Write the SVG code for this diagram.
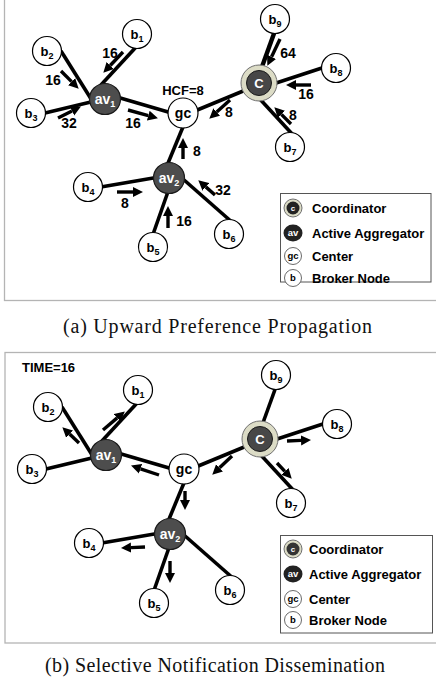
<svg xmlns="http://www.w3.org/2000/svg" width="436" height="684" viewBox="0 0 436 684">
<style>
.panel{fill:#fff;stroke:#b4b4b4;stroke-width:1.3}
.edge{stroke:#000;stroke-width:3.6;stroke-linecap:butt;fill:none}
.arr{stroke:#000;stroke-width:3.4;fill:none;marker-end:url(#ah)}
.bn{fill:#fff;stroke:#000;stroke-width:1.2}
.av{fill:#4d4d4d;stroke:#1a1a1a;stroke-width:1.2}
.ring{fill:#dcdcc6;stroke:#707070;stroke-width:1}
.cin{fill:#474747;stroke:#1a1a1a;stroke-width:1}
.t{font-family:"Liberation Sans",Arial,sans-serif;font-weight:bold;fill:#000}
.nl{font-size:13px;text-anchor:middle}
.wl{font-size:14px;text-anchor:middle;fill:#fff}
.sub{font-size:9px}
.lbl{font-size:14px;text-anchor:middle}
.leg{font-size:13px}
.li{font-size:9.5px;text-anchor:middle}
.cap{font-family:"Liberation Serif","Times New Roman",serif;font-size:20px;fill:#111}
.lbox{fill:#fff;stroke:#555;stroke-width:1}
</style>
<defs>
<marker id="ah" viewBox="0 0 10 10" refX="0" refY="5" markerWidth="10" markerHeight="11" markerUnits="userSpaceOnUse" orient="auto">
<path d="M0,0 L10,5 L0,10 z" fill="#000"/>
</marker>
</defs>

<!-- Panel (a) -->
<rect class="panel" x="4.5" y="-5" width="440" height="305.5"/>
<g id="edges-a">
<line class="edge" x1="137" y1="46" x2="100" y2="86"/>
<line class="edge" x1="61" y1="51" x2="93" y2="102"/>
<line class="edge" x1="45" y1="113" x2="95" y2="101"/>
<line class="edge" x1="110" y1="95" x2="175" y2="114"/>
<line class="edge" x1="190" y1="113" x2="248" y2="89"/>
<line class="edge" x1="185" y1="122" x2="166" y2="168"/>
<line class="edge" x1="276" y1="28" x2="259" y2="75" style="stroke-width:4.4"/>
<line class="edge" x1="270" y1="85" x2="328" y2="66"/>
<line class="edge" x1="258" y1="97" x2="294" y2="136"/>
<line class="edge" x1="95" y1="188" x2="165" y2="176"/>
<line class="edge" x1="151" y1="240" x2="170" y2="186"/>
<line class="edge" x1="175" y1="172" x2="233" y2="223"/>
</g>
<g id="arrows-a">
<line class="arr" x1="123" y1="52" x2="110.2" y2="65.5"/>
<line class="arr" x1="61" y1="71" x2="71.6" y2="81.6"/>
<line class="arr" x1="58" y1="118" x2="72" y2="111"/>
<line class="arr" x1="128" y1="110" x2="148.3" y2="115.6"/>
<line class="arr" x1="230" y1="100" x2="216.7" y2="112"/>
<line class="arr" x1="183" y1="159" x2="183" y2="148"/>
<line class="arr" x1="280" y1="39" x2="271.6" y2="56.8"/>
<line class="arr" x1="311" y1="85" x2="296" y2="85"/>
<line class="arr" x1="291" y1="124" x2="281.4" y2="114.4"/>
<line class="arr" x1="117" y1="192" x2="133" y2="192"/>
<line class="arr" x1="168" y1="228" x2="168" y2="216"/>
<line class="arr" x1="215" y1="195" x2="205.8" y2="186.9"/>
</g>
<g id="labels-a" class="t lbl">
<text x="110" y="58">16</text>
<text x="53" y="85">16</text>
<text x="69" y="128">32</text>
<text x="133" y="128">16</text>
<text x="183" y="95" style="font-size:13px">HCF=8</text>
<text x="229" y="117">8</text>
<text x="197" y="156">8</text>
<text x="288" y="58">64</text>
<text x="306" y="99">16</text>
<text x="293" y="120">8</text>
<text x="125" y="208">8</text>
<text x="184" y="226">16</text>
<text x="223" y="195">32</text>
</g>
<g id="nodes-a">
<g id="a-b1"><circle class="bn" cx="137" cy="34" r="14.5"/><text class="t nl" x="137" y="38.5">b<tspan class="sub" dy="3">1</tspan></text></g>
<g id="a-b2"><circle class="bn" cx="47" cy="51" r="14.5"/><text class="t nl" x="47" y="55.5">b<tspan class="sub" dy="3">2</tspan></text></g>
<g id="a-b3"><circle class="bn" cx="31" cy="113" r="14.5"/><text class="t nl" x="31" y="117.5">b<tspan class="sub" dy="3">3</tspan></text></g>
<g id="a-av1"><circle class="av" cx="105" cy="99" r="15.5"/><text class="t wl" x="105" y="104">av<tspan class="sub" dy="3">1</tspan></text></g>
<g id="a-gc"><circle class="bn" cx="183" cy="113" r="15"/><text class="t nl" x="183" y="118" style="font-size:14px">gc</text></g>
<g id="a-C"><circle class="ring" cx="259" cy="83" r="18"/><circle class="cin" cx="259" cy="83" r="12.5"/><text class="t nl" x="259" y="88" style="fill:#fff">C</text></g>
<g id="a-b9"><circle class="bn" cx="275" cy="19" r="14.5"/><text class="t nl" x="275" y="23.5">b<tspan class="sub" dy="3">9</tspan></text></g>
<g id="a-b8"><circle class="bn" cx="336" cy="68" r="14.5"/><text class="t nl" x="336" y="72.5">b<tspan class="sub" dy="3">8</tspan></text></g>
<g id="a-b7"><circle class="bn" cx="290" cy="147" r="14.5"/><text class="t nl" x="290" y="151.5">b<tspan class="sub" dy="3">7</tspan></text></g>
<g id="a-av2"><circle class="av" cx="169" cy="178" r="15.5"/><text class="t wl" x="169" y="183">av<tspan class="sub" dy="3">2</tspan></text></g>
<g id="a-b4"><circle class="bn" cx="88" cy="187" r="14.5"/><text class="t nl" x="88" y="191.5">b<tspan class="sub" dy="3">4</tspan></text></g>
<g id="a-b5"><circle class="bn" cx="153" cy="247" r="14.5"/><text class="t nl" x="153" y="251.5">b<tspan class="sub" dy="3">5</tspan></text></g>
<g id="a-b6"><circle class="bn" cx="229" cy="234" r="14.5"/><text class="t nl" x="229" y="238.5">b<tspan class="sub" dy="3">6</tspan></text></g>
</g>
<g id="legend-a">
<rect class="lbox" x="280.5" y="193.5" width="150.5" height="88.5"/>
<circle class="ring" cx="293" cy="208" r="9"/><circle cx="293" cy="208" r="6.5" fill="#222"/><text class="t li" x="293" y="211" style="fill:#fff;font-size:8px">c</text>
<text class="t leg" x="312" y="212.5">Coordinator</text>
<ellipse cx="293" cy="233" rx="9.5" ry="8.5" fill="#222"/><text class="t li" x="293" y="236.3" style="fill:#fff">av</text>
<text class="t leg" x="312" y="237.5">Active Aggregator</text>
<circle class="bn" cx="293" cy="256" r="8.5" style="stroke:#444;stroke-width:0.8"/><text class="t li" x="293" y="259.3">gc</text>
<text class="t leg" x="312" y="260.5">Center</text>
<circle class="bn" cx="293" cy="278" r="8.5" style="stroke:#444;stroke-width:0.8"/><text class="t li" x="293" y="281.3">b</text>
<text class="t leg" x="312" y="282.5">Broker Node</text>
</g>
<text class="cap" x="63" y="333" textLength="309" lengthAdjust="spacing">(a) Upward Preference Propagation</text>

<!-- Panel (b) -->
<rect class="panel" x="5" y="352.5" width="440" height="290.5"/>
<text class="t" x="22" y="372" style="font-size:13px">TIME=16</text>
<g transform="translate(1,356)">
<g id="edges-b">
<line class="edge" x1="137" y1="46" x2="100" y2="86"/>
<line class="edge" x1="61" y1="51" x2="93" y2="102"/>
<line class="edge" x1="45" y1="113" x2="95" y2="101"/>
<line class="edge" x1="110" y1="95" x2="175" y2="114"/>
<line class="edge" x1="190" y1="113" x2="248" y2="89"/>
<line class="edge" x1="185" y1="122" x2="166" y2="168"/>
<line class="edge" x1="276" y1="28" x2="259" y2="75"/>
<line class="edge" x1="270" y1="85" x2="328" y2="66"/>
<line class="edge" x1="258" y1="97" x2="294" y2="136"/>
<line class="edge" x1="95" y1="188" x2="165" y2="176"/>
<line class="edge" x1="151" y1="240" x2="170" y2="186"/>
<line class="edge" x1="175" y1="172" x2="233" y2="223"/>
</g>
</g>
<g id="arrows-b">
<line class="arr" x1="103" y1="430" x2="117.2" y2="417.9"/>
<line class="arr" x1="79" y1="443" x2="69.6" y2="434.1"/>
<line class="arr" x1="159" y1="475" x2="140.5" y2="468.8"/>
<line class="arr" x1="185" y1="491" x2="185" y2="500"/>
<line class="arr" x1="232" y1="456" x2="219.5" y2="467.8"/>
<line class="arr" x1="287" y1="441" x2="301" y2="440.4"/>
<line class="arr" x1="277" y1="463" x2="284.9" y2="471.4"/>
<line class="arr" x1="145" y1="547" x2="131" y2="547.6"/>
<line class="arr" x1="170" y1="561" x2="170" y2="573"/>
</g>
<g transform="translate(1,356)">
<g id="b-b1"><circle class="bn" cx="137" cy="34" r="14.5"/><text class="t nl" x="137" y="38.5">b<tspan class="sub" dy="3">1</tspan></text></g>
<g id="b-b2"><circle class="bn" cx="47" cy="51" r="14.5"/><text class="t nl" x="47" y="55.5">b<tspan class="sub" dy="3">2</tspan></text></g>
<g id="b-b3"><circle class="bn" cx="31" cy="113" r="14.5"/><text class="t nl" x="31" y="117.5">b<tspan class="sub" dy="3">3</tspan></text></g>
<g id="b-av1"><circle class="av" cx="105" cy="99" r="15.5"/><text class="t wl" x="105" y="104">av<tspan class="sub" dy="3">1</tspan></text></g>
<g id="b-gc"><circle class="bn" cx="183" cy="113" r="15"/><text class="t nl" x="183" y="118" style="font-size:14px">gc</text></g>
<g id="b-C"><circle class="ring" cx="259" cy="83" r="18"/><circle class="cin" cx="259" cy="83" r="12.5"/><text class="t nl" x="259" y="88" style="fill:#fff">C</text></g>
<g id="b-b9"><circle class="bn" cx="275" cy="19" r="14.5"/><text class="t nl" x="275" y="23.5">b<tspan class="sub" dy="3">9</tspan></text></g>
<g id="b-b8"><circle class="bn" cx="336" cy="68" r="14.5"/><text class="t nl" x="336" y="72.5">b<tspan class="sub" dy="3">8</tspan></text></g>
<g id="b-b7"><circle class="bn" cx="290" cy="147" r="14.5"/><text class="t nl" x="290" y="151.5">b<tspan class="sub" dy="3">7</tspan></text></g>
<g id="b-av2"><circle class="av" cx="169" cy="178" r="15.5"/><text class="t wl" x="169" y="183">av<tspan class="sub" dy="3">2</tspan></text></g>
<g id="b-b4"><circle class="bn" cx="88" cy="187" r="14.5"/><text class="t nl" x="88" y="191.5">b<tspan class="sub" dy="3">4</tspan></text></g>
<g id="b-b5"><circle class="bn" cx="153" cy="247" r="14.5"/><text class="t nl" x="153" y="251.5">b<tspan class="sub" dy="3">5</tspan></text></g>
<g id="b-b6"><circle class="bn" cx="229" cy="234" r="14.5"/><text class="t nl" x="229" y="238.5">b<tspan class="sub" dy="3">6</tspan></text></g>
</g>
<g id="legend-b">
<rect class="lbox" x="280.5" y="535.5" width="152" height="97.5"/>
<circle class="ring" cx="293" cy="549" r="9"/><circle cx="293" cy="549" r="6.5" fill="#333"/><text class="t li" x="293" y="552" style="fill:#fff;font-size:8px">c</text>
<text class="t leg" x="309" y="553.5">Coordinator</text>
<ellipse cx="293" cy="574" rx="9.5" ry="8.5" fill="#222"/><text class="t li" x="293" y="577.3" style="fill:#fff">av</text>
<text class="t leg" x="309" y="578.5">Active Aggregator</text>
<circle class="bn" cx="293" cy="599" r="8.5" style="stroke:#444;stroke-width:0.8"/><text class="t li" x="293" y="602.3">gc</text>
<text class="t leg" x="309" y="603.5">Center</text>
<circle class="bn" cx="293" cy="620" r="8.5" style="stroke:#444;stroke-width:0.8"/><text class="t li" x="293" y="623.3">b</text>
<text class="t leg" x="309" y="624.5">Broker Node</text>
</g>
<text class="cap" x="45" y="672" textLength="340" lengthAdjust="spacing">(b) Selective Notification Dissemination</text>
</svg>
